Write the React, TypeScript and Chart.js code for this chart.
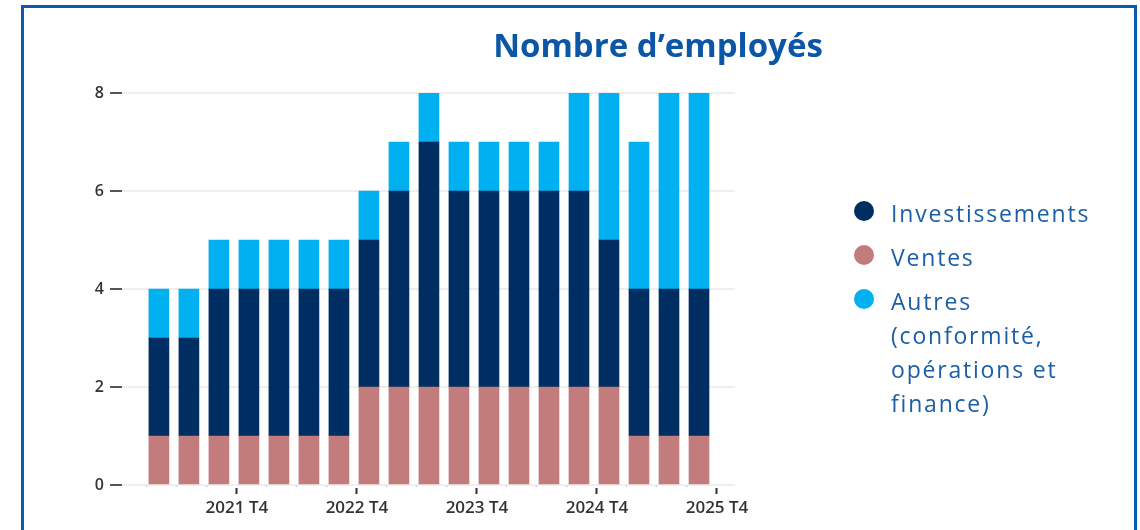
import React, { useEffect, useRef } from 'react';
import { Chart, registerables } from 'chart.js';

Chart.register(...registerables);

// ---- Data ----
const categories = [
  '2021 T1', '2021 T2', '2021 T3', '2021 T4',
  '2022 T1', '2022 T2', '2022 T3', '2022 T4',
  '2023 T1', '2023 T2', '2023 T3', '2023 T4',
  '2024 T1', '2024 T2', '2024 T3', '2024 T4',
  '2025 T1', '2025 T2', '2025 T3',
];
const ventes = [1, 1, 1, 1, 1, 1, 1, 2, 2, 2, 2, 2, 2, 2, 2, 2, 1, 1, 1];
const investissements = [2, 2, 3, 3, 3, 3, 3, 3, 4, 5, 4, 4, 4, 4, 4, 3, 3, 3, 3];
const autres = [1, 1, 1, 1, 1, 1, 1, 1, 1, 1, 1, 1, 1, 1, 2, 3, 3, 4, 4];
const tickLabels = ['2021 T4', '2022 T4', '2023 T4', '2024 T4', '2025 T4'];
const yTicks = [0, 2, 4, 6, 8];

const seriesNames = ['Investissements', 'Ventes', 'Autres (conformité, opérations et finance)'];
const seriesColors = ['#002d62', '#c27c7c', '#00b0f0'];

const TITLE = 'Nombre d’employés';
const BLUE = '#0b56a6';

const toPoints = (arr: number[]) => arr.map((y, i) => ({ x: i + 0.4, y }));

export default function App() {
  const canvasRef = useRef<HTMLCanvasElement | null>(null);

  useEffect(() => {
    const canvas = canvasRef.current;
    if (!canvas) return;
    const isMajor = (v: number) => v % 4 === 3;
    const chart = new Chart(canvas, {
      type: 'bar',
      data: {
        datasets: [
          { label: seriesNames[1], data: toPoints(ventes), backgroundColor: seriesColors[1], barThickness: 20 },
          { label: seriesNames[0], data: toPoints(investissements), backgroundColor: seriesColors[0], barThickness: 20 },
          { label: seriesNames[2], data: toPoints(autres), backgroundColor: seriesColors[2], barThickness: 20 },
        ],
      } as any,
      options: {
        animation: false,
        responsive: false,
        maintainAspectRatio: false,
        layout: { padding: { left: 0, top: 93, right: 405, bottom: 0 } },
        plugins: { legend: { display: false }, title: { display: false }, tooltip: { enabled: false } },
        scales: {
          x: {
            type: 'linear',
            offset: false,
            min: -0.83,
            max: 19.6,
            stacked: true,
            border: { display: false },
            afterBuildTicks: (s: any) => {
              s.ticks = Array.from({ length: categories.length + 1 }, (_, i) => ({ value: i }));
            },
            afterFit: (s: any) => {
              s.height = 45;
              s.paddingLeft = 0;
              s.paddingRight = 0;
            },
            grid: {
              offset: false,
              drawOnChartArea: false,
              drawTicks: true,
              tickLength: 10,
              tickWidth: 2,
              tickColor: (c: any) => (c.tick && isMajor(c.tick.value) ? '#333333' : '#cccccc'),
              tickBorderDash: (c: any) => (c.tick && isMajor(c.tick.value) ? [0, 3, 6, 100] : [2, 100]),
            },
            ticks: {
              autoSkip: false,
              maxRotation: 0,
              padding: 3,
              color: '#333333',
              font: { family: 'Open Sans', size: 17, weight: '600' },
              callback: (v: any) => {
                const n = Number(v);
                return isMajor(n) ? tickLabels[(n - 3) / 4] : '';
              },
            },
          },
          y: {
            stacked: true,
            min: yTicks[0],
            max: yTicks[yTicks.length - 1],
            border: { display: false },
            afterFit: (s: any) => {
              s.width = 122;
              s.paddingTop = 0;
              s.paddingBottom = 0;
            },
            afterBuildTicks: (s: any) => { s.ticks = yTicks.map((value) => ({ value })); },
            grid: {
              color: '#efefef',
              lineWidth: 2,
              tickLength: 12,
              tickWidth: 2,
              tickColor: '#555555',
            },
            ticks: {
              padding: 6,
              color: '#333333',
              font: { family: 'Open Sans', size: 16, weight: '600' },
            },
          },
        },
      } as any,
    });
    return () => chart.destroy();
  }, []);

  const legendOrder = [0, 1, 2];

  return (
    <div style={{ position: 'absolute', left: 0, top: 0, width: 1140, height: 530, overflow: 'hidden', background: '#ffffff' }}>
      <canvas ref={canvasRef} width={1140} height={530} style={{ position: 'absolute', left: 0, top: 0, width: 1140, height: 530 }} />
      <div
        style={{
          position: 'absolute', left: 658, top: 25, transform: 'translateX(-50%)',
          fontFamily: 'Open Sans', fontWeight: 700, fontSize: 33, lineHeight: '40px',
          color: BLUE, whiteSpace: 'nowrap',
        }}
      >
        {TITLE}
      </div>
      <div style={{ position: 'absolute', left: 854, top: 196 }}>
        {legendOrder.map((i) => (
          <div key={i} style={{ display: 'flex', alignItems: 'flex-start', marginBottom: 10 }}>
            <div style={{ width: 20, height: 20, borderRadius: 10, background: seriesColors[i], marginTop: 5, marginRight: 17, flex: '0 0 auto' }} />
            <div
              style={{
                width: 210, fontFamily: 'Open Sans', fontSize: 23, lineHeight: '34px',
                letterSpacing: '1.8px', color: '#1c5ea6',
              }}
            >
              {seriesNames[i]}
            </div>
          </div>
        ))}
      </div>
      <div
        style={{
          position: 'absolute', left: 21, top: 5, width: 1116, height: 600,
          boxSizing: 'border-box', border: '3px solid #0a5bb0', pointerEvents: 'none',
        }}
      />
    </div>
  );
}
